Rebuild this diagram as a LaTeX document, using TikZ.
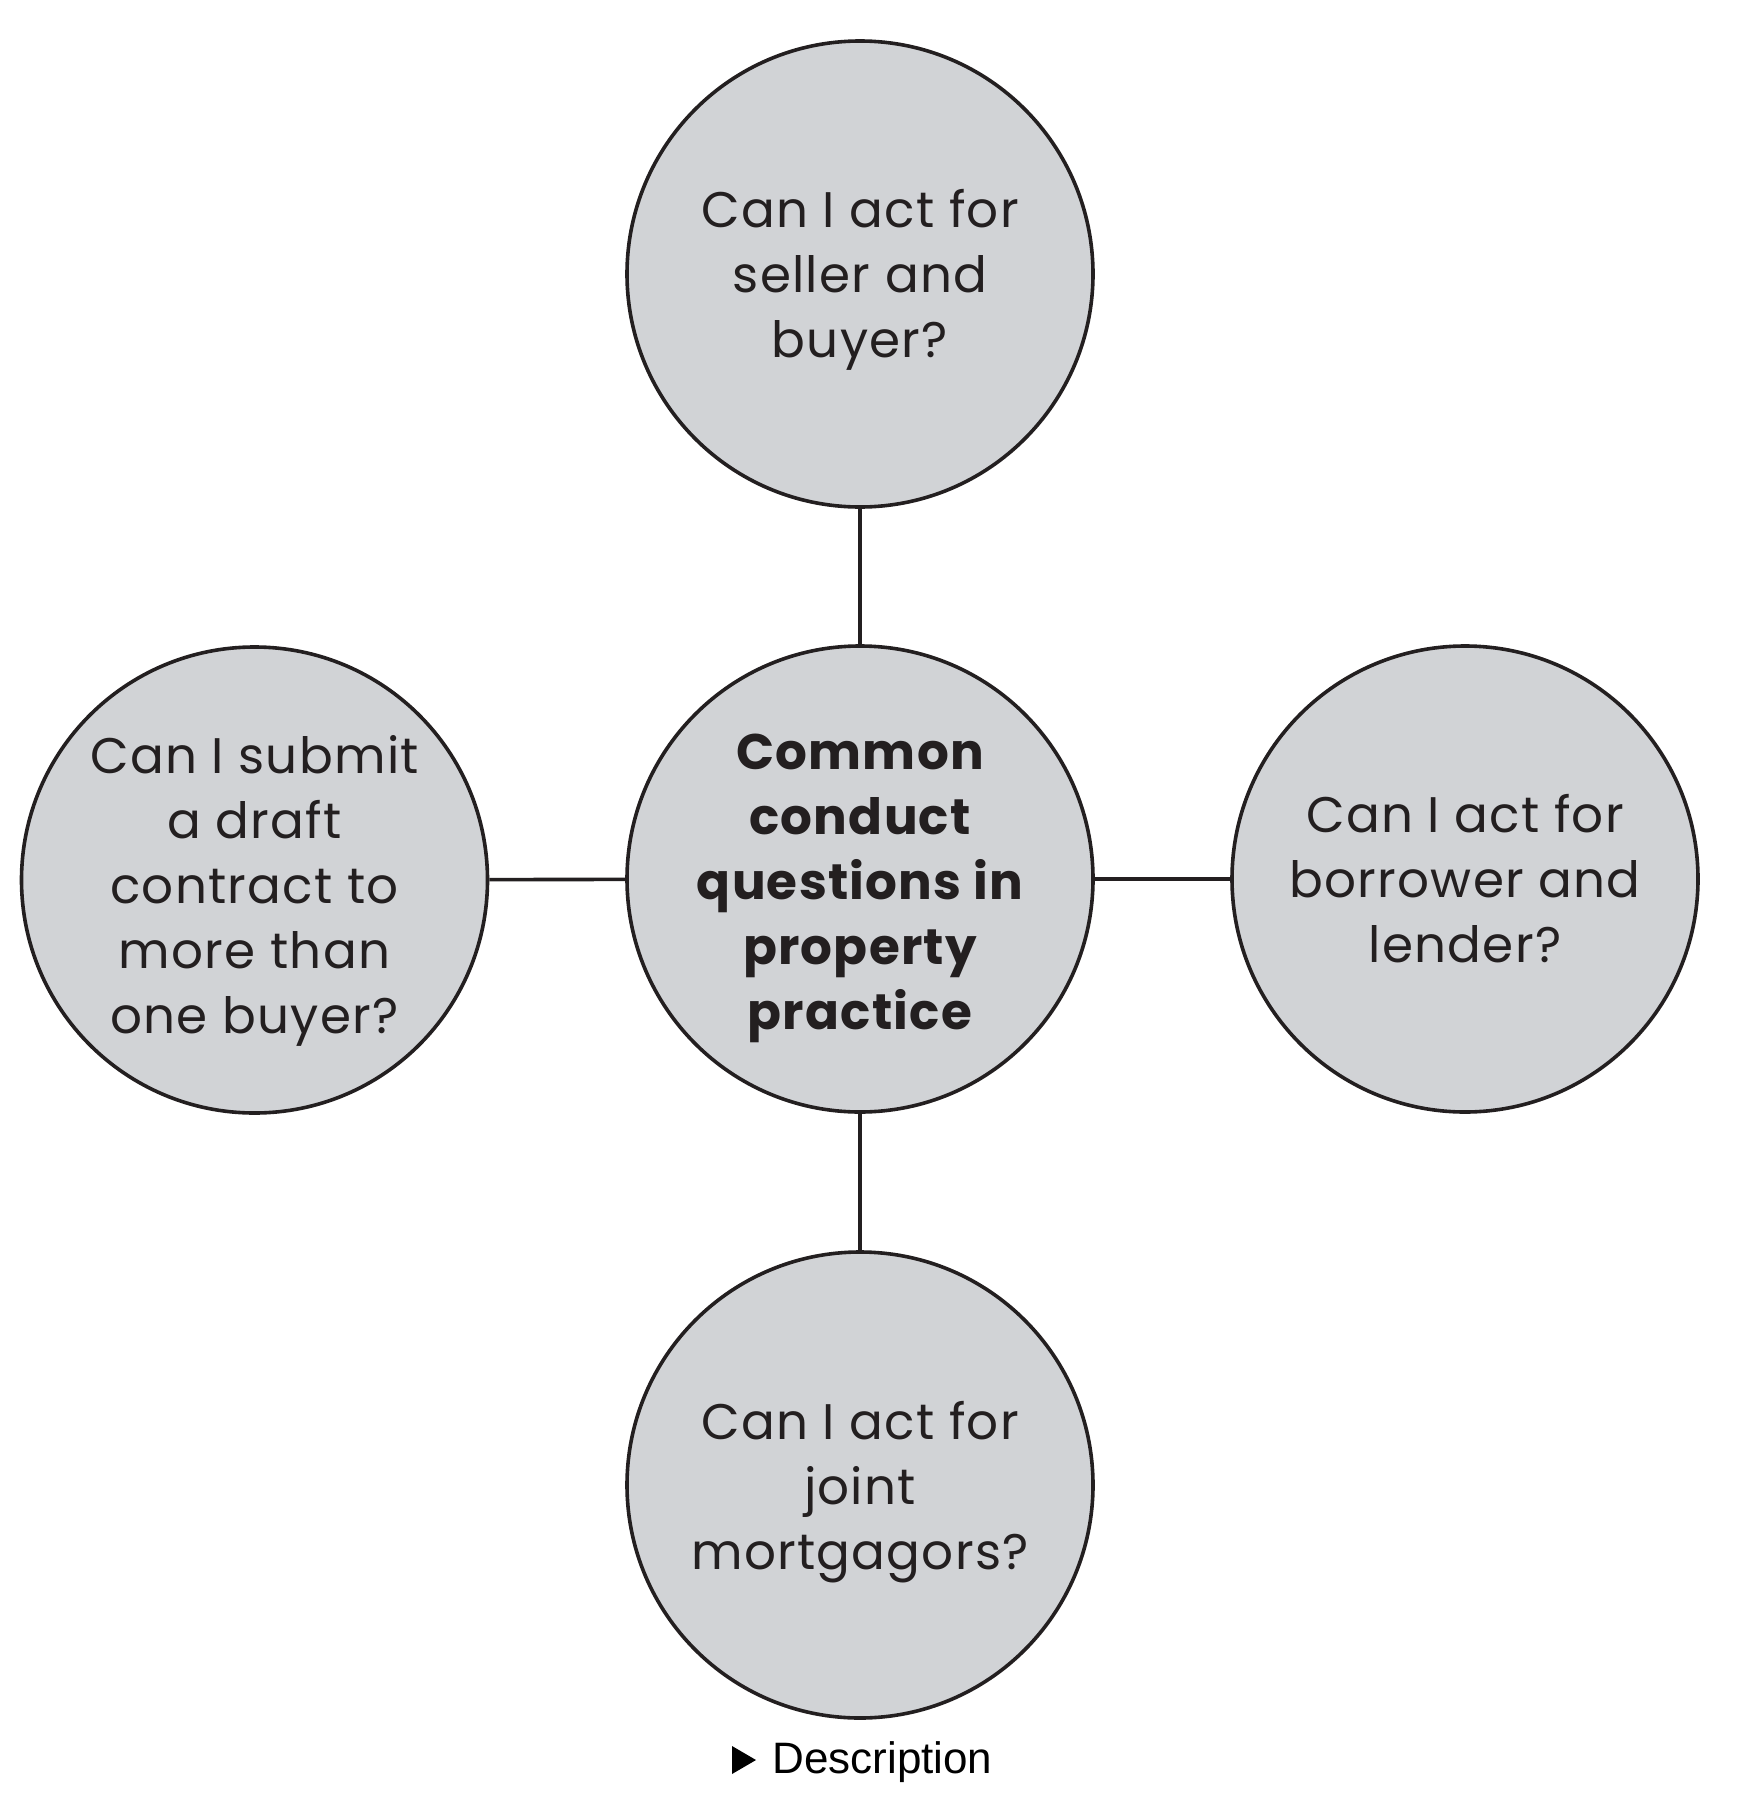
\documentclass[tikz,border=0pt]{standalone}
\usepackage{fontspec}
\setmainfont{Poppins}[LetterSpace=2.5]
\newfontfamily\descfont{Liberation Sans}
\definecolor{circfill}{HTML}{D1D3D6}
\definecolor{ink}{HTML}{231F20}
\begin{document}
\begin{tikzpicture}[x=0.5pt,y=-0.5pt,
  bubble/.style={circle, draw=ink, fill=circfill, line width=1.8pt, minimum size=233pt, inner sep=0pt},
  qtext/.style={align=center, text=ink, inner sep=0pt, font=\fontsize{25}{32.5}\selectfont},
  link/.style={draw=ink, line width=1.8pt}]
\useasboundingbox (0,0) rectangle (1752,1814);
\node[bubble] (c) at (860,879) {};
\node[bubble] (t) at (860,274) {};
\node[bubble] (l) at (254.5,880) {};
\node[bubble] (r) at (1465,879) {};
\node[bubble] (b) at (860,1485) {};
\node[qtext] (ct) at ([yshift=-4.5pt]c.center) {\bfseries Common\\\bfseries conduct\\\bfseries questions in\\\bfseries property\\\bfseries practice};
\node[qtext] (tt) at ([yshift=-3pt]t.center) {Can I act for\\seller and\\buyer?};
\node[qtext] (lt) at ([yshift=-5.5pt]l.center) {Can I submit\\a draft\\contract to\\more than\\one buyer?};
\node[qtext] (rt) at (r.center) {Can I act for\\borrower and\\lender?};
\node[qtext] (bt) at ([yshift=-3.5pt]b.center) {Can I act for\\joint\\mortgagors?};
\draw[link] (c) -- (t);
\draw[link] (c) -- (l);
\draw[link] (c) -- (r);
\draw[link] (c) -- (b);
\node[anchor=base west, inner sep=0pt, font=\descfont\fontsize{22}{24}\selectfont] (d) at (772,1773) {Description};
\fill (732,1746) -- (756,1760) -- (732,1774) -- cycle;
\end{tikzpicture}
\end{document}
